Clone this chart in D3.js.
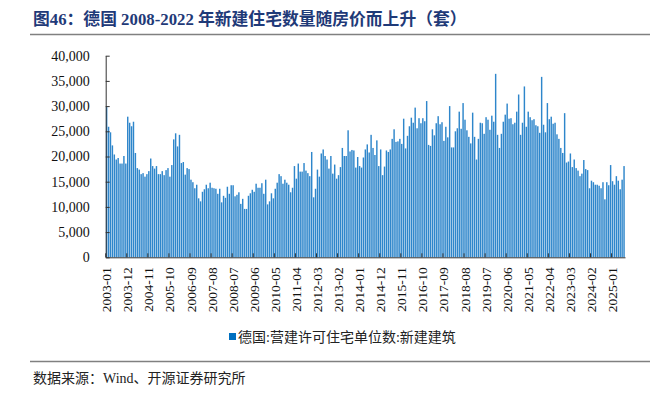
<!DOCTYPE html>
<html>
<head>
<meta charset="utf-8">
<script src="https://cdn.jsdelivr.net/npm/d3@7"></script>
<style>
  body { margin: 0; background: #fff; }
  svg { display: block; }
  .serif { font-family: "Liberation Serif", "Noto Sans CJK SC", serif; }
</style>
</head>
<body>
<svg id="chart" width="655" height="397"></svg>
<script>
// monthly permits, 2003-01 .. 2025-07 (units)
const startYear = 2003;
const permits = [
  29800, 25900, 24800, 22200, 20400, 19400, 19700, 18600, 18600, 20100, 18600, 27900, // 2003
  26700, 26000, 26900, 20700, 17700, 17400, 16500, 16700, 16000, 16500, 17100, 19600, // 2004
  18100, 17600, 18100, 16500, 16500, 17100, 16300, 17300, 17700, 16000, 18300, 23400, // 2005
  24600, 22000, 24300, 18700, 18900, 16400, 17700, 17500, 15400, 14900, 13700, 14400, // 2006
  11700, 11100, 13000, 13500, 14400, 13700, 14800, 13800, 13700, 13600, 12600, 13600, // 2007
  10900, 12200, 11800, 14000, 12600, 14300, 14300, 12100, 12400, 12900, 10600, 11600, // 2008
  9600, 9600, 12200, 12700, 13400, 13000, 14600, 13800, 13800, 14700, 12600, 15400,   // 2009
  10500, 11100, 12700, 11700, 13600, 14800, 16500, 16100, 14600, 15400, 14800, 14400, // 2010
  12900, 13800, 18100, 15600, 18600, 17000, 17000, 18700, 17200, 16700, 16100, 20900, // 2011
  11900, 13600, 17400, 16000, 20600, 21400, 20100, 19400, 17600, 20100, 16600, 18400, // 2012
  15600, 16300, 17900, 21700, 20100, 20100, 25200, 21000, 21300, 21200, 17800, 19900, // 2013
  18100, 17800, 19800, 21400, 22400, 20800, 24300, 21700, 20300, 23200, 18100, 21400, // 2014
  16300, 18000, 21200, 20900, 21400, 23500, 25400, 22900, 23000, 23500, 22500, 27500, // 2015
  21600, 24100, 26000, 27700, 26700, 29700, 25600, 27600, 26600, 27600, 27000, 31000, // 2016
  22300, 22100, 25400, 24200, 26600, 28000, 26400, 26800, 23100, 25900, 23800, 30000, // 2017
  21800, 21800, 25000, 25600, 28900, 25500, 30600, 27300, 25200, 23900, 22600, 28700, // 2018
  23900, 19400, 23500, 26700, 26600, 24500, 27800, 27300, 25300, 28100, 26900, 36400, // 2019
  24300, 21700, 24500, 26900, 28300, 30500, 27500, 27600, 26400, 26700, 28900, 32300, // 2020
  24300, 26700, 33900, 25900, 28900, 27800, 27200, 27400, 26200, 26000, 24700, 35800, // 2021
  26300, 24800, 30600, 27400, 27900, 26500, 26700, 24400, 23500, 21700, 20700, 28600, // 2022
  18800, 19000, 20600, 17900, 19400, 17700, 17200, 16100, 16600, 19300, 17500, 17300, // 2023
  13700, 15200, 14900, 14400, 14400, 14200, 13700, 14900, 11500, 14900, 14300, 18300, // 2024
  15100, 14400, 16100, 15200, 13500, 15400, 18100                                     // 2025
];
const months = permits.map((_, i) =>
  `${startYear + Math.floor(i / 12)}-${String(i % 12 + 1).padStart(2, '0')}`);

const tickLabels = [
  '2003-01', '2003-12', '2004-11', '2005-10', '2006-09', '2007-08', '2008-07',
  '2009-06', '2010-05', '2011-04', '2012-03', '2013-02', '2014-01', '2014-12',
  '2015-11', '2016-10', '2017-09', '2018-08', '2019-07', '2020-06', '2021-05',
  '2022-04', '2023-03', '2024-02', '2025-01'
];
const yTicks = [0, 5000, 10000, 15000, 20000, 25000, 30000, 35000, 40000];

const title = '图46：德国 2008-2022 年新建住宅数量随房价而上升（套）';
const seriesName = '德国:营建许可住宅单位数:新建建筑';
const source = '数据来源：Wind、开源证券研究所';

const svg = d3.select('#chart');
const plot = { left: 105.7, right: 625, top: 55.7, bottom: 257.3 };

const x = d3.scaleBand()
  .domain(months)
  .range([plot.left, plot.right])
  .paddingInner(0.25)
  .paddingOuter(0.125);

const y = d3.scaleLinear()
  .domain([0, 40000])
  .range([plot.bottom, plot.top]);

// title + rule
svg.append('text')
  .attr('class', 'serif')
  .attr('x', 33).attr('y', 25)
  .attr('font-size', 16.8).attr('font-weight', 'bold')
  .attr('fill', '#1f3a78')
  .text(title);
svg.append('line')
  .attr('x1', 30).attr('x2', 650).attr('y1', 34.5).attr('y2', 34.5)
  .attr('stroke', '#808080').attr('stroke-width', 1.5);

// bars
svg.append('g')
  .selectAll('rect')
  .data(permits)
  .join('rect')
    .attr('x', (d, i) => x(months[i]))
    .attr('y', d => y(d))
    .attr('width', x.bandwidth())
    .attr('height', d => y(0) - y(d))
    .attr('fill', '#2e86cb');

// y axis
const yAxis = svg.append('g')
  .attr('transform', `translate(${plot.left},0)`)
  .call(d3.axisLeft(y).tickValues(yTicks).tickFormat(d3.format(','))
    .tickSizeInner(-4).tickSizeOuter(0).tickPadding(16));
yAxis.select('.domain').attr('stroke', '#333');
yAxis.selectAll('.tick line').attr('stroke', '#333');
yAxis.selectAll('text')
  .attr('class', 'serif')
  .attr('font-size', 14).attr('fill', '#111');

// x axis, ticks on month boundaries
const xAxis = svg.append('g')
  .attr('transform', `translate(0,${plot.bottom})`)
  .call(d3.axisBottom(x).tickValues(tickLabels).tickSizeInner(-4).tickSizeOuter(0));
xAxis.select('.domain').attr('stroke', '#333');
xAxis.selectAll('.tick')
  .attr('transform', d => `translate(${x(d) - x.step() * 0.125},0)`);
xAxis.selectAll('.tick line').attr('stroke', '#333');
xAxis.selectAll('text')
  .attr('class', 'serif')
  .attr('font-size', 13.5).attr('fill', '#111')
  .attr('text-anchor', 'end')
  .attr('dy', null)
  .attr('dominant-baseline', 'central')
  .attr('transform', 'translate(1,10) rotate(-90)')
  .attr('x', 0).attr('y', 0);

// legend
const legend = svg.append('g');
legend.append('rect')
  .attr('x', 229).attr('y', 333).attr('width', 7).attr('height', 7)
  .attr('fill', '#0070c0');
legend.append('text')
  .attr('class', 'serif')
  .attr('x', 238).attr('y', 342)
  .attr('font-size', 14).attr('fill', '#222')
  .text(seriesName);

// source
svg.append('line')
  .attr('x1', 30).attr('x2', 650).attr('y1', 361.5).attr('y2', 361.5)
  .attr('stroke', '#808080').attr('stroke-width', 1.5);
svg.append('text')
  .attr('class', 'serif')
  .attr('x', 33).attr('y', 383)
  .attr('font-size', 14).attr('fill', '#222')
  .text(source);
</script>
</body>
</html>
